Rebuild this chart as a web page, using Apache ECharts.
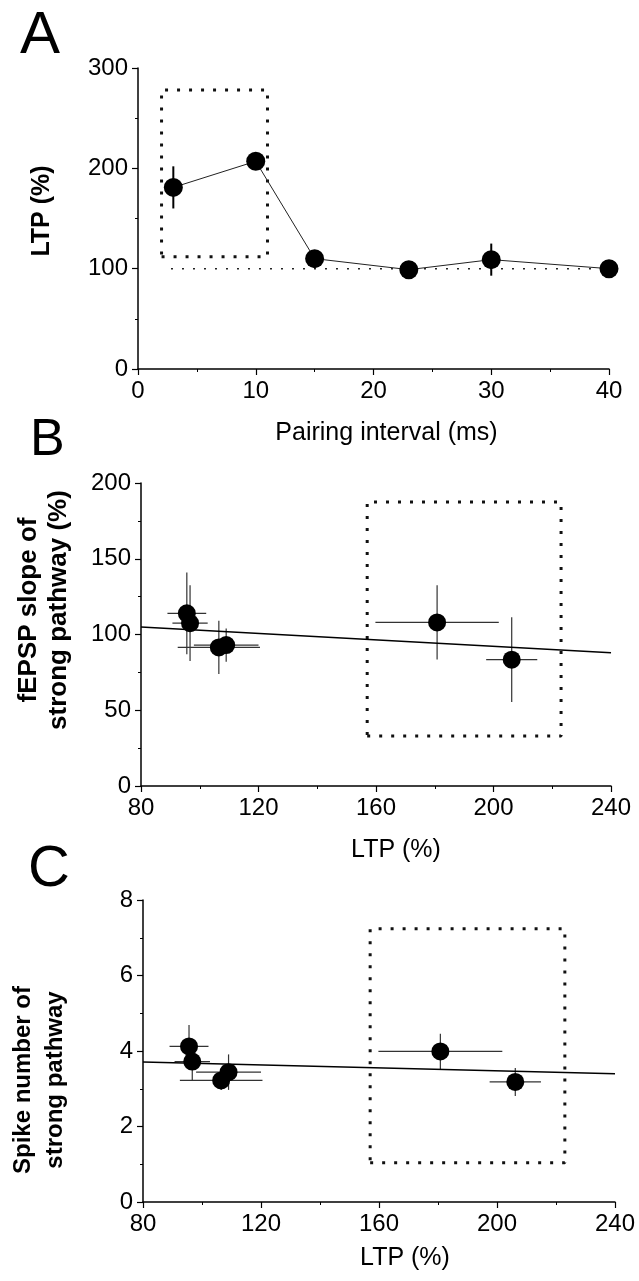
<!DOCTYPE html>
<html>
<head>
<meta charset="utf-8">
<script src="https://cdn.jsdelivr.net/npm/echarts@6/dist/echarts.min.js"></script>
<style>
  html, body { margin: 0; padding: 0; background: #fff; }
  #chart { width: 639px; height: 1281px; }
</style>
</head>
<body>
<div id="chart"></div>
<script>
const FONT = '"Liberation Sans", Arial, sans-serif';

// panel A - LTP vs pairing interval
const pairingMs = [3, 10, 15, 23, 30, 40];
const ltpMean = [181, 207, 110, 99, 109, 100];
const ltpSem = [21, 4, 5, 4, 16, 4];
const baselineA = 100;
const baselineAx = [2.8, 40];
const boxAx = [2, 11];
const boxAy = [112, 278];

// panels B and C - same LTP values on x
const ltpX = [95.6, 96.7, 106.5, 109, 180.8, 206.2];
const ltpXErr = [6.6, 6, 14, 11, 21, 8.7];

const fepspSlope = [114, 107.5, 91.5, 93, 108, 83.4];
const fepspErr = [27, 25, 17.5, 11, 24.5, 28];
const fitX = [80, 240];
const fitB = [105, 88];
const boxBx = [157, 223];
const boxBy = [33, 187.5];

const spikeNum = [4.12, 3.72, 3.22, 3.44, 3.99, 3.18];
const spikeErr = [0.57, 0.5, 0.25, 0.47, 0.47, 0.37];
const fitC = [3.71, 3.40];
const boxCx = [157, 223];
const boxCy = [1.04, 7.24];

function rect(xs, ys) {
  return [[xs[0], ys[0]], [xs[1], ys[0]], [xs[1], ys[1]], [xs[0], ys[1]], [xs[0], ys[0]]];
}

function errBars(color, width) {
  return function (params, api) {
    const x = api.value(0), y = api.value(1), ex = api.value(2), ey = api.value(3);
    const kids = [];
    const st = { stroke: color, lineWidth: width };
    if (ey) {
      const a = api.coord([x, y - ey]), b = api.coord([x, y + ey]);
      kids.push({ type: 'line', shape: { x1: a[0], y1: a[1], x2: b[0], y2: b[1] }, style: st });
    }
    if (ex) {
      const a = api.coord([x - ex, y]), b = api.coord([x + ex, y]);
      kids.push({ type: 'line', shape: { x1: a[0], y1: a[1], x2: b[0], y2: b[1] }, style: st });
    }
    return { type: 'group', children: kids };
  };
}

function axis(idx, min, max, interval, extra) {
  return Object.assign({
    type: 'value', gridIndex: idx, min: min, max: max, interval: interval,
    axisLine: { show: true, onZero: false, lineStyle: { color: '#000', width: 1.5 } },
    axisTick: { show: true, inside: false, length: 6, lineStyle: { color: '#000', width: 1.2 } },
    minorTick: { show: true, splitNumber: 2, length: 3, lineStyle: { color: '#000', width: 1 } },
    splitLine: { show: false },
    axisLabel: { color: '#000', fontSize: 24, fontFamily: FONT, margin: 10 }
  }, extra || {});
}

function xName(text, gap, shift) {
  return {
    name: text, nameLocation: 'middle', nameGap: gap,
    nameTextStyle: { color: '#000', fontSize: 25, fontFamily: FONT, padding: [0, 0, 0, shift * 2] }
  };
}

const dotted = { color: '#111', width: 3, type: [3, 9] };
const dot = { color: '#000', opacity: 1 };

const chart = echarts.init(document.getElementById('chart'));
chart.setOption({
  animation: false,
  backgroundColor: '#fff',
  grid: [
    { left: 138, top: 68, width: 471, height: 301, outerBoundsMode: 'none' },
    { left: 141, top: 483, width: 470, height: 303, outerBoundsMode: 'none' },
    { left: 143, top: 900, width: 472, height: 302, outerBoundsMode: 'none' }
  ],
  xAxis: [
    axis(0, 0, 40, 10, xName('Pairing interval (ms)', 52, 13)),
    axis(1, 80, 240, 40, xName('LTP (%)', 52, 20)),
    axis(2, 80, 240, 40, xName('LTP (%)', 44, 26))
  ],
  yAxis: [
    axis(0, 0, 300, 100),
    axis(1, 0, 200, 50),
    axis(2, 0, 8, 2)
  ],
  graphic: [
    { type: 'text', left: 20, top: 6, style: { text: 'A', font: '60px ' + FONT, fill: '#000' } },
    { type: 'text', left: 30, top: 415, style: { text: 'B', font: '52px ' + FONT, fill: '#000' } },
    { type: 'text', left: 28, top: 841, style: { text: 'C', font: '58px ' + FONT, fill: '#000' } },
    { type: 'text', x: 42, y: 211, rotation: Math.PI / 2,
      style: { text: 'LTP (%)', font: 'bold 25px ' + FONT, fill: '#000', align: 'center', verticalAlign: 'middle' } },
    { type: 'text', x: 44, y: 610, rotation: Math.PI / 2,
      style: { text: 'fEPSP slope of\nstrong pathway (%)', font: 'bold 26px ' + FONT, lineHeight: 30, fill: '#000', align: 'center', verticalAlign: 'middle' } },
    { type: 'text', x: 39, y: 1080, rotation: Math.PI / 2,
      style: { text: 'Spike number of\nstrong pathway', font: 'bold 24px ' + FONT, lineHeight: 32, fill: '#000', align: 'center', verticalAlign: 'middle' } }
  ],
  series: [
    // A
    { type: 'line', xAxisIndex: 0, yAxisIndex: 0, symbol: 'none', silent: true,
      data: baselineAx.map(x => [x, baselineA]), lineStyle: { color: '#222', width: 1.5, type: [2, 9] } },
    { type: 'line', xAxisIndex: 0, yAxisIndex: 0, symbol: 'none', silent: true,
      data: rect(boxAx, boxAy), lineStyle: dotted },
    { type: 'custom', xAxisIndex: 0, yAxisIndex: 0, renderItem: errBars('#000', 2),
      data: pairingMs.map((x, i) => [x, ltpMean[i], 0, ltpSem[i]]), z: 3 },
    { type: 'line', xAxisIndex: 0, yAxisIndex: 0, symbol: 'circle', symbolSize: 19,
      data: pairingMs.map((x, i) => [x, ltpMean[i]]),
      itemStyle: dot, lineStyle: { color: '#222', width: 1 }, z: 4 },
    // B
    { type: 'line', xAxisIndex: 1, yAxisIndex: 1, symbol: 'none', silent: true,
      data: rect(boxBx, boxBy), lineStyle: dotted },
    { type: 'line', xAxisIndex: 1, yAxisIndex: 1, symbol: 'none', silent: true,
      data: fitX.map((x, i) => [x, fitB[i]]), lineStyle: { color: '#000', width: 1.5 } },
    { type: 'custom', xAxisIndex: 1, yAxisIndex: 1, renderItem: errBars('#333', 1.2),
      data: ltpX.map((x, i) => [x, fepspSlope[i], ltpXErr[i], fepspErr[i]]), z: 3 },
    { type: 'scatter', xAxisIndex: 1, yAxisIndex: 1, symbol: 'circle', symbolSize: 18,
      data: ltpX.map((x, i) => [x, fepspSlope[i]]), itemStyle: dot, z: 4 },
    // C
    { type: 'line', xAxisIndex: 2, yAxisIndex: 2, symbol: 'none', silent: true,
      data: rect(boxCx, boxCy), lineStyle: dotted },
    { type: 'line', xAxisIndex: 2, yAxisIndex: 2, symbol: 'none', silent: true,
      data: fitX.map((x, i) => [x, fitC[i]]), lineStyle: { color: '#000', width: 1.5 } },
    { type: 'custom', xAxisIndex: 2, yAxisIndex: 2, renderItem: errBars('#333', 1.2),
      data: ltpX.map((x, i) => [x, spikeNum[i], ltpXErr[i], spikeErr[i]]), z: 3 },
    { type: 'scatter', xAxisIndex: 2, yAxisIndex: 2, symbol: 'circle', symbolSize: 18,
      data: ltpX.map((x, i) => [x, spikeNum[i]]), itemStyle: dot, z: 4 }
  ]
});
</script>
</body>
</html>
